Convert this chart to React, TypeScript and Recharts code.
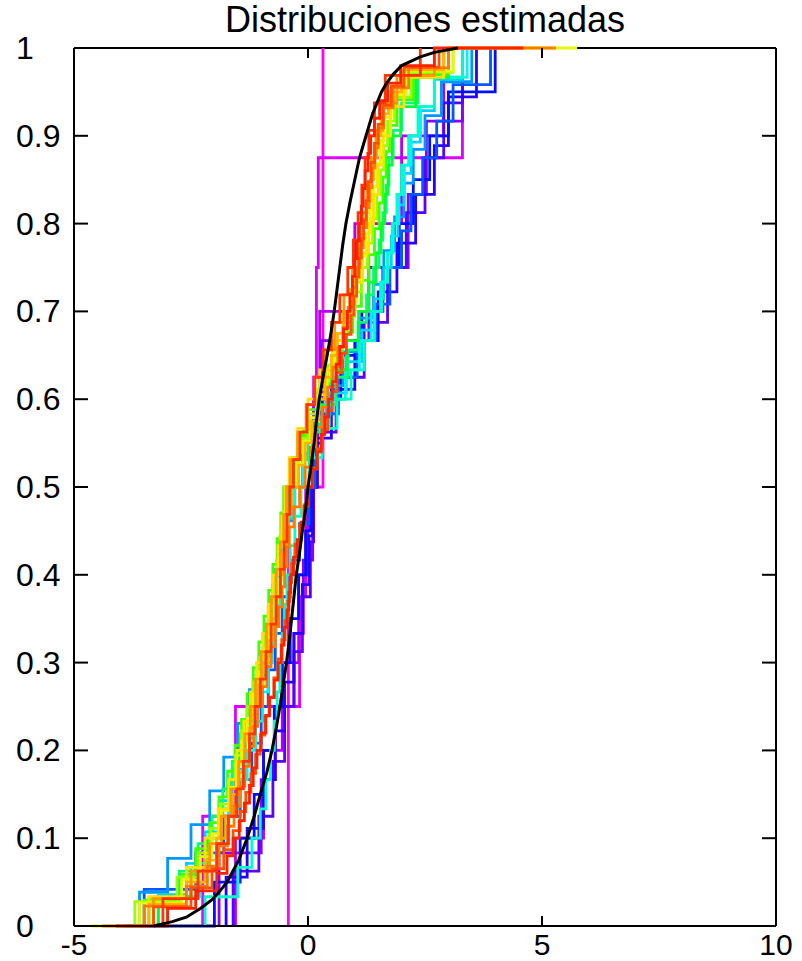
import { LineChart, Line, XAxis, YAxis, ReferenceLine } from 'recharts';

const X_TICKS = [-5, 0, 5, 10];
const Y_TICKS = [0, 0.1, 0.2, 0.3, 0.4, 0.5, 0.6, 0.7, 0.8, 0.9, 1];

// sorted samples of each estimated distribution (read off the steps)
const m1 = [-0.42, 0.32];
const m2 = [-2.25, -1.55, -0.18, -0.05, 0.12, 0.18, 0.22, 3.3];
const p1 = [-1.55, -0.95, -0.55, -0.2, 0.0, 0.12, 0.25, 1.0, 2.0, 2.9];
const p2 = [-1.9, -1.0, -0.7, -0.3, -0.1, 0.1, 0.2, 0.28, 1.3, 2.14, 2.53, 3.3];
const b1 = [-1.6, -1.05, -0.75, -0.5, -0.3, -0.12, 0.05, 0.12, 0.2, 0.6, 1.2, 1.7, 2.1, 2.5, 2.9, 3.3];
const b2 = [-1.75, -1.3, -0.95, -0.7, -0.5, -0.3, -0.12, 0.02, 0.1, 0.18, 0.5, 1.0, 1.5, 1.9, 2.3, 2.7, 3.0, 3.6];
const b3 = [-2.0, -1.45, -1.15, -0.95, -0.72, -0.55, -0.38, -0.2, -0.05, 0.05, 0.12, 0.3, 0.7, 1.15, 1.6, 1.95, 2.25, 2.6, 3.0, 4.0];
const lb1 = [-3.5, -2.4, -1.8, -1.45, -1.2, -1.0, -0.85, -0.7, -0.55, -0.38, -0.18, 0.02, 0.15, 0.3, 0.65, 1.05, 1.45, 1.75, 2.0, 2.2, 2.45, 2.75, 3.1, 3.9];
const lb2 = [-3.6, -3.0, -2.5, -2.1, -1.8, -1.5, -1.25, -1.02, -0.85, -0.72, -0.6, -0.47, -0.3, -0.08, 0.1, 0.4, 0.75, 1.1, 1.4, 1.62, 1.85, 2.05, 2.25, 2.5, 2.85, 3.5];
const c1 = [-3.2, -2.6, -2.2, -1.9, -1.62, -1.38, -1.15, -0.98, -0.86, -0.76, -0.67, -0.58, -0.48, -0.33, -0.12, 0.1, 0.45, 0.82, 1.15, 1.42, 1.62, 1.78, 1.92, 2.05, 2.2, 2.4, 2.7, 3.3];
const c3 = [-3.0, -2.3, -1.95, -1.7, -1.5, -1.3, -1.12, -0.97, -0.85, -0.76, -0.68, -0.6, -0.52, -0.42, -0.28, -0.1, 0.12, 0.45, 0.8, 1.1, 1.35, 1.55, 1.7, 1.82, 1.94, 2.06, 2.2, 2.4, 2.7, 3.4];
const c2 = [-2.2, -1.5, -1.2, -1.02, -0.9, -0.8, -0.72, -0.66, -0.6, -0.55, -0.5, -0.45, -0.38, -0.28, -0.15, 0.02, 0.3, 0.62, 0.92, 1.2, 1.42, 1.58, 1.7, 1.8, 1.9, 2.0, 2.15, 2.35, 2.7, 3.3];
const g1 = [-3.4, -2.75, -2.35, -2.05, -1.82, -1.62, -1.45, -1.3, -1.16, -1.03, -0.91, -0.8, -0.7, -0.62, -0.54, -0.42, -0.25, 0.0, 0.3, 0.6, 0.85, 1.07, 1.25, 1.4, 1.52, 1.6, 1.67, 1.73, 1.82, 2.0, 2.35, 3.0];
const g3 = [-3.2, -2.5, -2.15, -1.9, -1.68, -1.5, -1.34, -1.2, -1.07, -0.95, -0.84, -0.74, -0.65, -0.57, -0.48, -0.32, -0.1, 0.2, 0.52, 0.82, 1.08, 1.3, 1.45, 1.56, 1.64, 1.71, 1.8, 1.98, 2.3, 3.0];
const g2 = [-3.5, -2.7, -2.4, -2.1, -1.9, -1.72, -1.56, -1.42, -1.3, -1.17, -1.05, -0.94, -0.84, -0.75, -0.66, -0.58, -0.52, -0.4, -0.22, 0.0, 0.25, 0.5, 0.74, 0.96, 1.14, 1.3, 1.42, 1.52, 1.6, 1.67, 1.74, 1.9, 2.25, 3.0];
const yg = [-3.7, -2.8, -2.35, -2.08, -1.88, -1.7, -1.55, -1.42, -1.3, -1.18, -1.06, -0.95, -0.85, -0.76, -0.67, -0.6, -0.53, -0.47, -0.36, -0.2, 0.0, 0.2, 0.42, 0.62, 0.82, 1.0, 1.15, 1.27, 1.38, 1.47, 1.55, 1.62, 1.7, 1.85, 2.2, 3.1];
const ye = [-3.6, -2.7, -2.3, -2.05, -1.85, -1.68, -1.54, -1.42, -1.3, -1.18, -1.06, -0.95, -0.84, -0.74, -0.65, -0.57, -0.51, -0.46, -0.38, -0.25, -0.1, 0.05, 0.22, 0.4, 0.57, 0.74, 0.9, 1.04, 1.15, 1.24, 1.32, 1.4, 1.47, 1.54, 1.62, 1.78, 2.1, 3.1];
const y2 = [-3.4, -2.6, -2.2, -1.92, -1.7, -1.52, -1.37, -1.23, -1.1, -0.97, -0.85, -0.74, -0.64, -0.56, -0.49, -0.4, -0.22, 0.0, 0.25, 0.52, 0.78, 1.0, 1.17, 1.3, 1.4, 1.5, 1.6, 1.76, 2.05, 2.9];
const o1 = [-3.4, -2.6, -2.2, -1.95, -1.76, -1.6, -1.47, -1.36, -1.26, -1.16, -1.06, -0.96, -0.86, -0.76, -0.67, -0.59, -0.53, -0.48, -0.43, -0.33, -0.2, -0.06, 0.08, 0.22, 0.36, 0.5, 0.63, 0.76, 0.89, 1.0, 1.09, 1.17, 1.25, 1.33, 1.4, 1.47, 1.56, 1.72, 2.0, 2.9];
const o3 = [-3.3, -2.5, -2.1, -1.85, -1.65, -1.48, -1.35, -1.23, -1.12, -1.0, -0.89, -0.78, -0.68, -0.59, -0.52, -0.46, -0.38, -0.22, -0.04, 0.15, 0.36, 0.57, 0.77, 0.95, 1.07, 1.17, 1.26, 1.35, 1.45, 1.6, 1.9, 2.7];
const o2 = [-3.5, -2.6, -2.15, -1.9, -1.72, -1.58, -1.45, -1.35, -1.25, -1.16, -1.07, -0.97, -0.88, -0.79, -0.7, -0.62, -0.55, -0.5, -0.45, -0.4, -0.3, -0.18, -0.06, 0.05, 0.17, 0.3, 0.42, 0.53, 0.64, 0.75, 0.86, 0.96, 1.04, 1.11, 1.18, 1.25, 1.31, 1.37, 1.43, 1.5, 1.62, 1.82, 2.15, 3.0];
const r1 = [-3.3, -2.5, -2.05, -1.8, -1.6, -1.45, -1.33, -1.22, -1.12, -1.02, -0.92, -0.83, -0.73, -0.64, -0.56, -0.49, -0.43, -0.39, -0.35, -0.28, -0.18, -0.09, 0.0, 0.1, 0.2, 0.3, 0.42, 0.52, 0.62, 0.72, 0.82, 0.92, 0.98, 1.04, 1.09, 1.14, 1.19, 1.24, 1.29, 1.35, 1.42, 1.5, 1.6, 1.78, 2.05, 2.8];
const r3 = [-3.1, -2.35, -1.95, -1.7, -1.52, -1.38, -1.25, -1.13, -1.02, -0.9, -0.79, -0.68, -0.59, -0.51, -0.45, -0.39, -0.31, -0.17, -0.02, 0.14, 0.32, 0.5, 0.68, 0.85, 0.97, 1.07, 1.15, 1.22, 1.3, 1.42, 1.65, 2.4];
const r2 = [-3.0, -2.4, -1.95, -1.73, -1.6, -1.47, -1.36, -1.25, -1.17, -1.09, -1.0, -0.9, -0.82, -0.72, -0.64, -0.57, -0.51, -0.45, -0.41, -0.37, -0.31, -0.23, -0.15, -0.07, 0.01, 0.09, 0.19, 0.28, 0.36, 0.44, 0.52, 0.6, 0.68, 0.76, 0.84, 0.9, 0.95, 1.0, 1.05, 1.1, 1.14, 1.18, 1.22, 1.28, 1.34, 1.42, 1.53, 1.7, 1.98, 2.7];

// reference distribution (black), x at each level
const blackLevels = [0, 0.005, 0.01, 0.02, 0.03, 0.04, 0.05, 0.075, 0.1, 0.125, 0.15, 0.175, 0.2, 0.225, 0.25, 0.275, 0.3, 0.325, 0.35, 0.375, 0.4, 0.425, 0.45, 0.475, 0.5, 0.525, 0.55, 0.575, 0.6, 0.625, 0.65, 0.675, 0.7, 0.725, 0.75, 0.775, 0.8, 0.825, 0.85, 0.875, 0.9, 0.925, 0.95, 0.96, 0.97, 0.98, 0.99, 0.995, 1];
const blackX = [-3.3, -2.9, -2.6, -2.3, -2.05, -1.88, -1.73, -1.48, -1.3, -1.15, -1.02, -0.88, -0.77, -0.68, -0.6, -0.53, -0.46, -0.4, -0.35, -0.3, -0.25, -0.18, -0.12, -0.05, 0.0, 0.07, 0.13, 0.18, 0.24, 0.32, 0.41, 0.49, 0.56, 0.62, 0.68, 0.74, 0.81, 0.9, 1.0, 1.1, 1.24, 1.38, 1.57, 1.68, 1.82, 2.0, 2.4, 2.7, 3.2];

const SERIES = [
  { name: 'm1', color: '#ff00ff', samples: m1 },
  { name: 'm2', color: '#dd00ff', samples: m2 },
  { name: 'p1', color: '#b000ff', samples: p1 },
  { name: 'p2', color: '#8800ff', samples: p2 },
  { name: 'b1', color: '#5a00ff', samples: b1 },
  { name: 'b2', color: '#2800ff', samples: b2 },
  { name: 'b3', color: '#0010ff', samples: b3, lo: -3.9 },
  { name: 'lb1', color: '#0058ff', samples: lb1 },
  { name: 'lb2', color: '#0098ff', samples: lb2 },
  { name: 'c1', color: '#00d0ff', samples: c1 },
  { name: 'c3', color: '#00f4ff', samples: c3 },
  { name: 'c2', color: '#00ffc8', samples: c2 },
  { name: 'g1', color: '#00ff78', samples: g1 },
  { name: 'g3', color: '#00ff30', samples: g3 },
  { name: 'g2', color: '#40ff00', samples: g2 },
  { name: 'yg', color: '#98ff00', samples: yg },
  { name: 'ye', color: '#e8f800', samples: ye, lo: -4.63, hi: 5.75 },
  { name: 'y2', color: '#ffe000', samples: y2 },
  { name: 'o1', color: '#ffb400', samples: o1 },
  { name: 'o3', color: '#ff9600', samples: o3 },
  { name: 'o2', color: '#ff7a00', samples: o2, lo: -4.4, hi: 5.3 },
  { name: 'r1', color: '#ff5000', samples: r1 },
  { name: 'r3', color: '#ff3600', samples: r3 },
  { name: 'r2', color: '#ff2000', samples: r2, lo: -4.1, hi: 4.6 },
];

const PLOT = { left: 74, right: 776, top: 48, bottom: 926 };
const FONT = '"Liberation Sans", Arial, Helvetica, sans-serif';

// stairs of an empirical CDF
const ecdf = (samples: number[], lo?: number, hi?: number) => {
  const n = samples.length;
  const pts = [{ x: lo ?? samples[0], y: 0 }];
  samples.forEach((s, i) => pts.push({ x: s, y: (i + 1) / n }));
  if (hi !== undefined) pts.push({ x: hi, y: 1 });
  return pts;
};

const blackData = blackX.map((x, i) => ({ x, y: blackLevels[i] }));

const YTick = ({ y, payload }: any) => (
  <g>
    <text x={16} y={y} dominantBaseline="central" textAnchor="start" fontSize={32} fontFamily={FONT} fill="#000">
      {String(payload.value)}
    </text>
    <line x1={PLOT.left} x2={PLOT.left + 14} y1={y} y2={y} stroke="#000" strokeWidth={2} />
    <line x1={PLOT.right} x2={PLOT.right - 14} y1={y} y2={y} stroke="#000" strokeWidth={2} />
  </g>
);

const XTick = ({ x, payload }: any) => (
  <g>
    <text x={x} y={944} dominantBaseline="central" textAnchor="middle" fontSize={30} fontFamily={FONT} fill="#000">
      {String(payload.value)}
    </text>
    <line x1={x} x2={x} y1={PLOT.bottom} y2={PLOT.bottom - 10} stroke="#000" strokeWidth={2} />
    <line x1={x} x2={x} y1={PLOT.top} y2={PLOT.top + 10} stroke="#000" strokeWidth={2} />
  </g>
);

export default function App() {
  return (
    <div style={{ position: 'absolute', left: 0, top: 0, width: 802, height: 961, background: '#fff' }}>
      <div
        style={{
          position: 'absolute',
          left: PLOT.left,
          width: PLOT.right - PLOT.left,
          top: 0,
          textAlign: 'center',
          fontFamily: FONT,
          fontSize: 36,
          lineHeight: '40px',
        }}
      >
        Distribuciones estimadas
      </div>
      <LineChart width={802} height={961} margin={{ top: PLOT.top, right: 802 - PLOT.right, bottom: 0, left: 0 }}>
        <XAxis
          dataKey="x"
          type="number"
          domain={[-5, 10]}
          ticks={X_TICKS}
          interval={0}
          height={961 - PLOT.bottom}
          tick={<XTick />}
          tickLine={false}
          axisLine={{ stroke: '#000', strokeWidth: 2 }}
        />
        <YAxis
          type="number"
          domain={[0, 1]}
          ticks={Y_TICKS}
          interval={0}
          width={PLOT.left}
          tick={<YTick />}
          tickLine={false}
          axisLine={{ stroke: '#000', strokeWidth: 2 }}
        />
        <ReferenceLine y={1} stroke="#000" strokeWidth={2} />
        <ReferenceLine x={10} stroke="#000" strokeWidth={2} />
        {SERIES.map((s) => (
          <Line
            key={s.name}
            data={ecdf(s.samples, s.lo, s.hi)}
            dataKey="y"
            type="stepAfter"
            stroke={s.color}
            strokeWidth={2.8}
            dot={false}
            isAnimationActive={false}
          />
        ))}
        <Line
          data={blackData}
          dataKey="y"
          type="linear"
          stroke="#000"
          strokeWidth={3}
          dot={false}
          isAnimationActive={false}
        />
      </LineChart>
    </div>
  );
}
